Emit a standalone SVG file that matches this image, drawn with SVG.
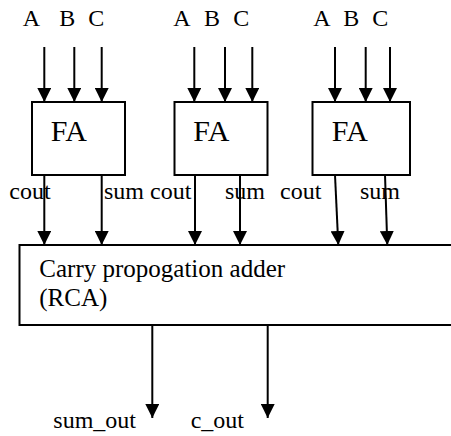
<svg xmlns="http://www.w3.org/2000/svg" width="451" height="436" viewBox="0 0 451 436">
<style>
text{font-family:"Liberation Serif","Times New Roman",serif;fill:#000}
.lbl{font-size:24px}
.fa{font-size:30px}
.box{fill:#fff;stroke:#000;stroke-width:2}
.wire{stroke:#000;stroke-width:2;fill:none;marker-end:url(#ah)}
</style>
<defs>
<marker id="ah" markerUnits="userSpaceOnUse" markerWidth="14" markerHeight="14" viewBox="0 0 14 14" refX="14" refY="7" orient="auto">
<path d="M0,0 L14,7 L0,14 Z" fill="#000"/>
</marker>
</defs>
<g id="inputs-labels">
<text class="lbl" x="22.7" y="26">A</text><text class="lbl" x="59.3" y="26">B</text><text class="lbl" x="88.3" y="26">C</text>
<text class="lbl" x="173.3" y="26">A</text><text class="lbl" x="204" y="26">B</text><text class="lbl" x="233.3" y="26">C</text>
<text class="lbl" x="313.3" y="26">A</text><text class="lbl" x="343.3" y="26">B</text><text class="lbl" x="372.3" y="26">C</text>
</g>
<g id="fa1"><rect class="box" x="32" y="102" width="93" height="73"/><text class="fa" x="50.7" y="141">FA</text></g>
<g id="fa2"><rect class="box" x="174.5" y="102" width="93" height="73"/><text class="fa" x="193.3" y="141">FA</text></g>
<g id="fa3"><rect class="box" x="312.5" y="102" width="97.5" height="73"/><text class="fa" x="331.7" y="141">FA</text></g>
<g id="cpa"><path class="box" d="M460,245 H19.5 V325 H460"/>
<text class="lbl" x="39.3" y="277" style="font-size:25px">Carry propogation adder</text>
<text class="lbl" x="39.3" y="306" style="font-size:25px">(RCA)</text></g>
<g id="connectors">
<line class="wire" x1="44.3" y1="47" x2="44.3" y2="102"/>
<line class="wire" x1="74.3" y1="47" x2="74.3" y2="102"/>
<line class="wire" x1="101.7" y1="47" x2="101.7" y2="102"/>
<line class="wire" x1="194.3" y1="47" x2="194.3" y2="102"/>
<line class="wire" x1="225" y1="47" x2="225" y2="102"/>
<line class="wire" x1="252.3" y1="47" x2="252.3" y2="102"/>
<line class="wire" x1="335" y1="47" x2="335" y2="102"/>
<line class="wire" x1="365.7" y1="47" x2="365.7" y2="102"/>
<line class="wire" x1="390" y1="47" x2="390" y2="102"/>
<line class="wire" x1="44.3" y1="175" x2="44.3" y2="245"/>
<line class="wire" x1="101.7" y1="175" x2="101.7" y2="245"/>
<line class="wire" x1="195" y1="175" x2="195" y2="245"/>
<line class="wire" x1="240" y1="175" x2="240" y2="245"/>
<line class="wire" x1="335" y1="175" x2="338.3" y2="245"/>
<line class="wire" x1="385" y1="175" x2="387.3" y2="245"/>
<line class="wire" x1="152.3" y1="325" x2="152.3" y2="418"/>
<line class="wire" x1="267.7" y1="325" x2="267.7" y2="418"/>
</g>
<g id="wire-labels">
<text class="lbl" x="9.3" y="199">cout</text>
<text class="lbl" x="104" y="199">sum</text>
<text class="lbl" x="150" y="199">cout</text>
<text class="lbl" x="225" y="199">sum</text>
<text class="lbl" x="280" y="199">cout</text>
<text class="lbl" x="360" y="199">sum</text>
<text class="lbl" x="53.3" y="428">sum_out</text>
<text class="lbl" x="190.7" y="428">c_out</text>
</g>
</svg>
